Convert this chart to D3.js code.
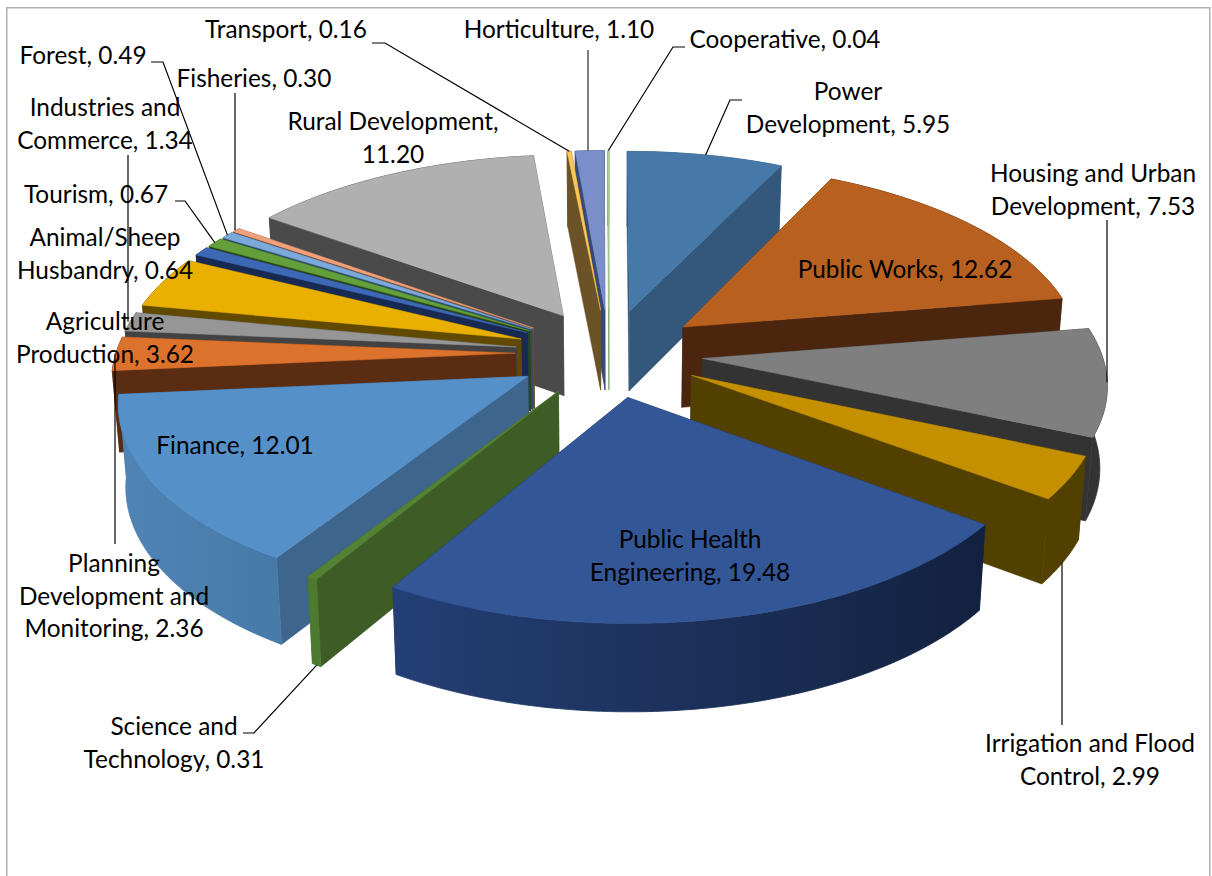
<!DOCTYPE html>
<html>
<head>
<meta charset="utf-8">
<script src="https://cdnjs.cloudflare.com/ajax/libs/d3/7.8.5/d3.min.js"></script>
<style>
  html, body { margin: 0; padding: 0; background: #fff; overflow: hidden; }
  text { font-family: Lato, "Open Sans", sans-serif; font-size: 24.4px; fill: #000; text-anchor: middle; }
</style>
</head>
<body>
<div id="chart"></div>
<script>
// slices, clockwise from 12 o'clock
const categories = ["Power Development", "Public Works", "Housing and Urban Development",
    "Irrigation and Flood Control", "Public Health Engineering", "Science and Technology",
    "Finance", "Planning Development and Monitoring", "Industries and Commerce",
    "Agriculture Production", "Animal/Sheep Husbandry", "Tourism", "Forest", "Fisheries",
    "Rural Development", "Transport", "Horticulture", "Cooperative"];
const values = [5.95, 12.62, 7.53, 2.99, 19.48, 0.31, 12.01, 2.36, 1.34, 3.62, 0.64, 0.67, 0.49, 0.30, 11.20, 0.16, 1.10, 0.04];

// colours of each slice
const topColors = ["#4679a8", "#b86020", "#7f7f7f", "#c49000", "#335697", "#548235", "#5590c8", "#dc722c", "#969696",
    "#e9b000", "#3d68b5", "#63a03b", "#7ba9d9", "#f0a17a", "#b0b0b0", "#ffc658", "#7a8ec9", "#a9d18e"];
const sideColors = ["#33587b", "#4c250e", "#333333", "#524000", "#1c2f58", "#3e5c25", "#3e658c", "#5a2c12", "#424242",
    "#614a00", "#192a52", "#2a4518", "#2f4d6a", "#6e4735", "#4a4a4a", "#6b5327", "#374a75", "#7fa56a"];
const wallLeft = ["#33587b", "#4c250e", "#333333", "#524000", "#243f75", "#4d7a30", "#4f84b5", "#5a2c12", "#424242",
    "#614a00", "#192a52", "#2a4518", "#2f4d6a", "#6e4735", "#4a4a4a", "#6b5327", "#374a75", "#7fa56a"];
const wallRight = ["#33587b", "#4c250e", "#333333", "#524000", "#13213f", "#4d7a30", "#467aa8", "#5a2c12", "#424242",
    "#614a00", "#192a52", "#2a4518", "#2f4d6a", "#6e4735", "#4a4a4a", "#6b5327", "#374a75", "#7fa56a"];

// label text and where it sits: [centre x, first baseline]
const labelLines = [["Power", "Development, 5.95"], ["Public Works, 12.62"], ["Housing and Urban", "Development, 7.53"],
    ["Irrigation and Flood", "Control, 2.99"], ["Public Health", "Engineering, 19.48"], ["Science and", "Technology, 0.31"],
    ["Finance, 12.01"], ["Planning", "Development and", "Monitoring, 2.36"], ["Industries and", "Commerce, 1.34"],
    ["Agriculture", "Production, 3.62"], ["Animal/Sheep", "Husbandry, 0.64"], ["Tourism, 0.67"], ["Forest, 0.49"],
    ["Fisheries, 0.30"], ["Rural Development,", "11.20"], ["Transport, 0.16"], ["Horticulture, 1.10"], ["Cooperative, 0.04"]];
const labelPos = [[848, 100], [905, 278], [1093, 182], [1090, 752], [690, 548], [174, 735], [235, 454], [114, 572], [105, 116],
    [105, 330], [105, 246], [96, 203], [83, 64], [254, 87], [393, 130], [286, 38], [559, 38], [785, 48]];

// leader lines: points next to the label, the end is worked out from the slice. low = ends on the wall bottom
const leaders = {
    0: { pts: [[742, 100], [730, 100]] },
    2: { pts: [[1107, 220]], vertical: true },
    3: { pts: [[1062, 725]], vertical: true, low: true },
    5: { pts: [[243, 733], [254, 733]], low: true },
    7: { pts: [[115, 544]], vertical: true },
    8: { pts: [[128, 155]], vertical: true },
    11: { pts: [[175, 201], [185, 201]] },
    12: { pts: [[151, 62], [163, 62]] },
    13: { pts: [[235, 93]], vertical: true },
    15: { pts: [[372, 43], [385, 43]] },
    16: { pts: [[588, 50]], vertical: true, color: "#555" },
    17: { pts: [[685, 47], [673, 47]] }
};

const w = 1212, h = 876;

// 3D look of the pie
const explode = 0.19;          // share of the radius each slice is pulled out
const persp = 0.146;           // perspective along the depth of the plane
const wallH = 81;              // wall height in px
const wallShrink = 0.015;      // bottom of the pie is a bit narrower

const xScale = d3.scaleLinear().domain([-1, 1]).range([609 - 493, 609 + 493]);
const yScale = d3.scaleLinear().domain([-1, 1]).range([353 - 232, 353 + 232]);

function project(X, Y, z) {
    const k = 1 / (1 - persp * Y);
    const f = 1 - wallShrink * z;
    return [xScale(X * k * f), yScale(Y * k) + wallH * Math.pow(k, 0.55) * z];
}

// point of a slice: t=0 is its tip, t=1 its rim
function slicePoint(d, angle, t, z) {
    const mid = (d.startAngle + d.endAngle) / 2;
    const r = (1 - explode) * t;
    return project(explode * Math.sin(mid) + r * Math.sin(angle),
        -explode * Math.cos(mid) - r * Math.cos(angle), z);
}

function arcAngles(d) {
    const n = Math.max(2, Math.ceil((d.endAngle - d.startAngle) / 0.02));
    return d3.range(n + 1).map(i => d.startAngle + (d.endAngle - d.startAngle) * i / n);
}

const pieData = d3.pie().sort(null).value(v => v)(values);
const line = d3.line();

const svg = d3.select("#chart").append("svg").attr("width", w).attr("height", h);
const defs = svg.append("defs");

// chart area border, runs off the bottom of the shot
svg.append("rect")
    .attr("x", 6.75).attr("y", 7.75).attr("width", 1203).attr("height", 900)
    .attr("fill", "none").attr("stroke", "#b0b0b0").attr("stroke-width", 1.5);

// back to front so nearer slices cover the ones behind
const order = d3.range(values.length).sort((a, b) => {
    const ma = (pieData[a].startAngle + pieData[a].endAngle) / 2;
    const mb = (pieData[b].startAngle + pieData[b].endAngle) / 2;
    return d3.ascending(-Math.cos(ma), -Math.cos(mb));
});

const pie3d = svg.append("g").attr("class", "pie3d");

order.forEach(i => {
    const d = pieData[i];
    const g = pie3d.append("g").attr("class", "slice");
    const angles = arcAngles(d);

    // radial cut faces
    [d.startAngle, d.endAngle].forEach(a => {
        const face = [slicePoint(d, a, 0, 0), slicePoint(d, a, 1, 0), slicePoint(d, a, 1, 1), slicePoint(d, a, 0, 1)];
        g.append("path").attr("d", line(face) + "Z").attr("fill", sideColors[i]).attr("stroke", sideColors[i]).attr("stroke-width", 0.5);
    });

    // outer wall
    const topRim = angles.map(a => slicePoint(d, a, 1, 0));
    const lowRim = angles.map(a => slicePoint(d, a, 1, 1)).reverse();
    const xs = d3.extent(topRim, p => p[0]);
    const gradId = "wall" + i;
    const grad = defs.append("linearGradient").attr("id", gradId)
        .attr("gradientUnits", "userSpaceOnUse")
        .attr("x1", xs[0]).attr("x2", xs[1]).attr("y1", 0).attr("y2", 0);
    grad.append("stop").attr("offset", 0).attr("stop-color", wallLeft[i]);
    grad.append("stop").attr("offset", 1).attr("stop-color", wallRight[i]);
    g.append("path").attr("d", line(topRim.concat(lowRim)) + "Z")
        .attr("fill", `url(#${gradId})`).attr("stroke", `url(#${gradId})`).attr("stroke-width", 0.8);

    // top
    const topFace = [slicePoint(d, d.startAngle, 0, 0)].concat(topRim);
    g.append("path").attr("d", line(topFace) + "Z").attr("fill", topColors[i]).attr("stroke", topColors[i]).attr("stroke-width", 0.5);
});

// leader lines
Object.keys(leaders).forEach(key => {
    const i = +key, l = leaders[key], d = pieData[i];
    const mid = (d.startAngle + d.endAngle) / 2;
    const end = slicePoint(d, mid, 1, l.low ? 1 : 0);
    if (l.vertical) end[0] = l.pts[0][0];
    svg.append("path")
        .attr("d", line(l.pts.concat([end])))
        .attr("fill", "none")
        .attr("stroke", l.color || "#000")
        .attr("stroke-width", l.color ? 1.5 : 1.2);
});

// data labels
categories.forEach((c, i) => {
    const t = svg.append("text").attr("class", "label").attr("data-name", c)
        .attr("x", labelPos[i][0]).attr("y", labelPos[i][1]);
    labelLines[i].forEach((s, j) => {
        t.append("tspan").attr("x", labelPos[i][0]).attr("dy", j === 0 ? 0 : 32.6).text(s);
    });
});
</script>
</body>
</html>
